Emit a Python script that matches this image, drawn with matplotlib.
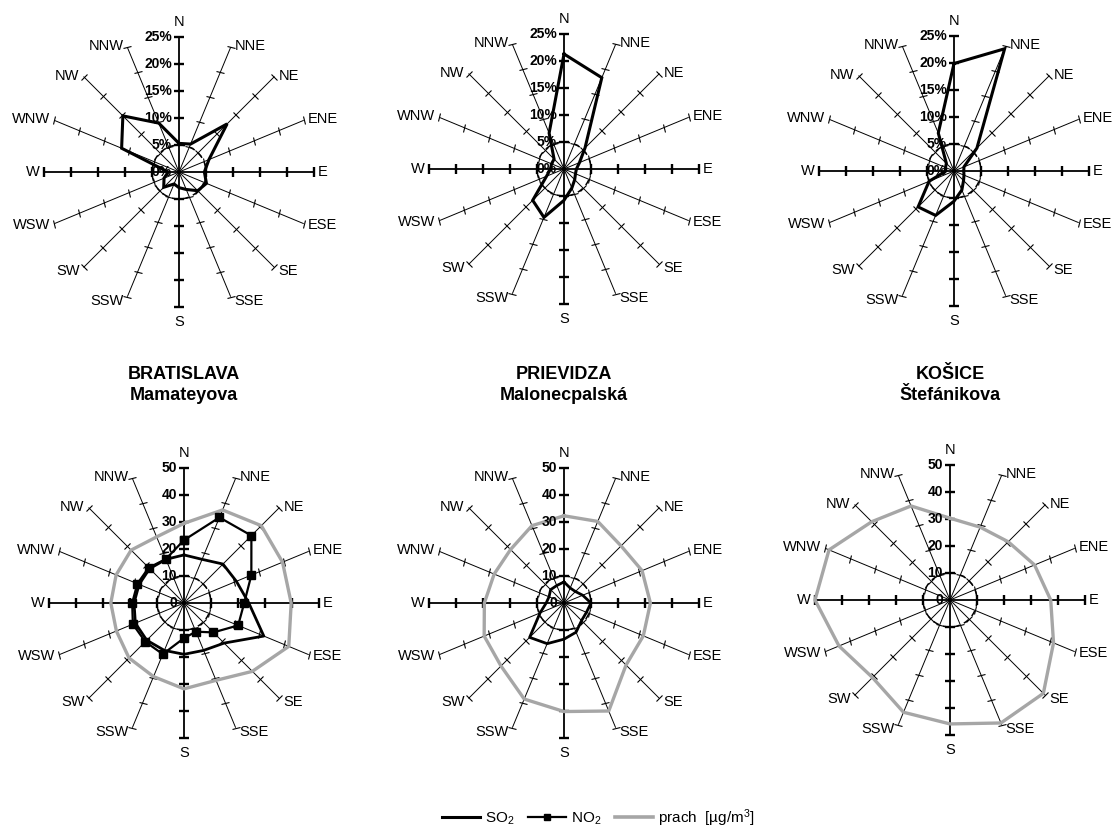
import numpy as np
import matplotlib
matplotlib.use('Agg')
import matplotlib.pyplot as plt
from matplotlib.markers import MarkerStyle
from matplotlib.transforms import Affine2D
from matplotlib.lines import Line2D

plt.rcParams['font.family'] = ['Liberation Sans', 'DejaVu Sans']
plt.rcParams['mathtext.fontset'] = 'custom'
plt.rcParams['mathtext.rm'] = 'Liberation Sans'
plt.rcParams['mathtext.it'] = 'Liberation Sans:italic'
plt.rcParams['mathtext.bf'] = 'Liberation Sans:bold'

# ---------------- data ----------------
directions = ['N', 'NNE', 'NE', 'ENE', 'E', 'ESE', 'SE', 'SSE',
              'S', 'SSW', 'SW', 'WSW', 'W', 'WNW', 'NW', 'NNW']
stations = ['BRATISLAVA\nMamateyova', 'PRIEVIDZA\nMalonecpalská', 'KOŠICE\nŠtefánikova']

# wind direction frequency [%]
wind_ba = [5.3, 5.6, 12.6, 6.0, 4.7, 5.5, 4.9, 3.5, 2.9, 2.4, 4.0, 3.0, 2.0, 11.5, 14.7, 9.8]
wind_pd = [21.3, 18.3, 5.5, 3.1, 2.3, 2.3, 2.8, 3.8, 5.8, 9.7, 8.2, 3.5, 2.5, 2.5, 2.6, 7.2]
wind_ke = [19.9, 24.5, 6.0, 2.0, 1.8, 2.0, 2.5, 3.8, 5.6, 8.9, 9.4, 5.0, 1.5, 1.7, 2.0, 7.6]

# concentrations [ug/m3]
so2_ba = [17.8, 17.5, 20.4, 21.0, 24.0, 32.0, 21.0, 19.0, 19.0, 19.0, 19.5, 19.5, 18.5, 18.0, 18.0, 17.5]
no2_ba = [23.3, 34.3, 35.3, 27.0, 22.3, 21.7, 15.4, 11.5, 13.0, 20.5, 20.3, 20.5, 19.2, 18.7, 18.5, 17.6]
prach_ba = [29.5, 37.3, 40.5, 39.5, 39.7, 42.0, 35.8, 31.0, 31.8, 29.5, 28.8, 27.1, 27.1, 27.2, 27.7, 26.5]

so2_pd = [7.8, 6.0, 6.0, 7.5, 10.0, 9.0, 9.2, 11.7, 13.4, 16.3, 18.0, 9.6, 6.6, 6.0, 7.0, 7.0]
prach_pd = [32.3, 32.7, 29.9, 31.3, 32.0, 31.8, 32.5, 43.3, 40.2, 38.5, 33.0, 32.0, 29.5, 28.0, 28.0, 31.0]

prach_ke = [30.3, 29.2, 30.5, 33.9, 37.3, 41.5, 48.9, 49.3, 45.9, 45.0, 40.6, 44.5, 50.0, 48.5, 41.0, 37.7]

wind_ticks = [0, 5, 10, 15, 20, 25]
wind_tick_labels = ['0%', '5%', '10%', '15%', '20%', '25%']
conc_ticks = [0, 10, 20, 30, 40, 50]
conc_tick_labels = ['0', '10', '20', '30', '40', '50']

legend_labels = [r'$\mathregular{SO_2}$', r'$\mathregular{NO_2}$', r'prach  [µg/m$\mathregular{^3}$]']

# ---------------- drawing ----------------
W, H = 1118, 835
fig = plt.figure(figsize=(W / 100, H / 100), dpi=100)
R = 135
GRAY = '#a6a6a6'


def make_ax(cx, cy):
    return fig.add_axes([(cx - R) / W, (H - cy - R) / H, 2 * R / W, 2 * R / H],
                        projection='polar')


def radar(ax, ticks, ticklabels):
    rmax = ticks[-1]
    ax.set_theta_zero_location('N')
    ax.set_theta_direction(-1)
    ax.set_ylim(0, rmax)
    ax.grid(False)
    ax.set_xticks([])
    ax.set_yticks([])
    ax.spines['polar'].set_visible(False)
    ax.patch.set_visible(False)
    theta = np.deg2rad(np.arange(len(directions)) * 22.5)
    for i, (t, name) in enumerate(zip(theta, directions)):
        major = (i % 4 == 0)
        ax.plot([t, t], [0, rmax], color='black', lw=1.3 if major else 0.7,
                zorder=2, clip_on=False, solid_capstyle='butt')
        ang = i * 22.5
        m = MarkerStyle('_', transform=Affine2D().rotate_deg(-ang))
        ax.plot([t] * (len(ticks) - 1), ticks[1:], linestyle='none', marker=m,
                markersize=6.5 if major else 5.5, mew=1.7 if major else 0.8,
                color='black', zorder=2, clip_on=False)
        s, c = np.sin(np.deg2rad(ang)), np.cos(np.deg2rad(ang))
        if name == 'N':
            off, ha, va = (0, 8), 'center', 'bottom'
        elif name == 'S':
            off, ha, va = (0, -8), 'center', 'top'
        else:
            dy = 1 if c > 0.01 else (-4 if c < -0.5 else (-1 if c < -0.01 else 0))
            off = (4 if s > 0 else -4, dy)
            ha = 'left' if s > 0 else 'right'
            va = 'center'
        ax.annotate(name, xy=(t, rmax), xytext=off, textcoords='offset pixels',
                    ha=ha, va=va, fontsize=10.5, annotation_clip=False)
    circ = np.linspace(0, 2 * np.pi, 300)
    ax.plot(circ, np.full_like(circ, ticks[1]), color='black', lw=1.1,
            linestyle=(0, (4, 3)), zorder=2)
    for tv, tl in zip(ticks, ticklabels):
        ax.annotate(tl, xy=(0, tv), xytext=(-7, 0), textcoords='offset pixels',
                    ha='right', va='center', fontsize=10, fontweight='bold',
                    annotation_clip=False, zorder=5)
    return theta


def closed(theta, vals):
    return np.append(theta, theta[0]), np.append(vals, vals[0])


top_centers = [(179, 172), (564, 169), (954, 171)]
bot_centers = [(184, 603), (564, 603), (950, 600)]

for (cx, cy), wind in zip(top_centers, [wind_ba, wind_pd, wind_ke]):
    ax = make_ax(cx, cy)
    th = radar(ax, wind_ticks, wind_tick_labels)
    tt, vv = closed(th, wind)
    ax.plot(tt, vv, color='black', lw=2.2, zorder=4, clip_on=False,
            solid_joinstyle='miter')

conc_sets = [(so2_ba, no2_ba, prach_ba), (so2_pd, None, prach_pd), (None, None, prach_ke)]
for (cx, cy), (so2, no2, prach) in zip(bot_centers, conc_sets):
    ax = make_ax(cx, cy)
    th = radar(ax, conc_ticks, conc_tick_labels)
    if prach is not None:
        tt, vv = closed(th, prach)
        ax.plot(tt, vv, color=GRAY, lw=2.4, zorder=3, clip_on=False)
    if so2 is not None:
        tt, vv = closed(th, so2)
        ax.plot(tt, vv, color='black', lw=2.0, zorder=4, clip_on=False)
    if no2 is not None:
        tt, vv = closed(th, no2)
        ax.plot(tt, vv, color='black', lw=1.6, marker='s', markersize=6,
                zorder=4, clip_on=False)

for (cx, cy), name in zip(bot_centers, stations):
    fig.text(cx / W, 1 - 385 / H, name, ha='center', va='center',
             fontsize=13, fontweight='bold', linespacing=1.25)

handles = [Line2D([], [], color='black', lw=2.2),
           Line2D([], [], color='black', lw=1.6, marker='s', markersize=5),
           Line2D([], [], color=GRAY, lw=2.6)]
fig.legend(handles, legend_labels, loc='center', bbox_to_anchor=(598 / W, 1 - 818 / H),
           ncol=3, frameon=False, fontsize=11, handlelength=2.5,
           handletextpad=0.3, columnspacing=0.9)

fig.savefig('out.png', dpi=100)
